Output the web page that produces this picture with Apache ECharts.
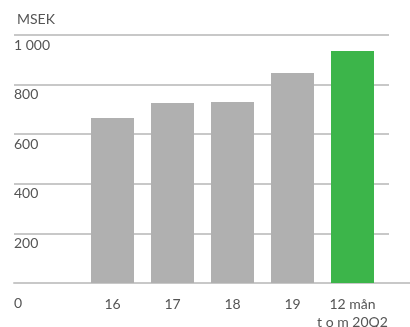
<!DOCTYPE html>
<html><head><meta charset="utf-8">
<script src="https://cdn.jsdelivr.net/npm/echarts@6/dist/echarts.min.js"></script>
<style>html,body{margin:0;padding:0;background:#fff}#c{width:410px;height:327px}</style>
</head><body><div id="c"></div>
<script>
const categories = ['16', '17', '18', '19', '12 mån\nt o m 20Q2'];
const values = [665, 726, 730, 847, 935];
const highlight = [false, false, false, false, true];
const yTicks = [0, 200, 400, 600, 800, 1000];
const unit = 'MSEK';

const FONT = 'Lato';
const chart = echarts.init(document.getElementById('c'), null, {renderer: 'canvas'});
const fmt = v => v >= 1000 ? String(v).replace(/\B(?=(\d{3})+(?!\d))/g, ' ') : String(v);
chart.setOption({
  animation: false,
  title: {text: unit, left: 12, top: 7, textStyle: {fontFamily: FONT, fontSize: 14, fontWeight: 'normal', color: '#555'}},
  grid: [
    {left: 14, right: 21, top: 35, bottom: 44, outerBoundsMode: 'none', containLabel: false},
    {left: 82.5, right: 27.5, top: 35, bottom: 44, outerBoundsMode: 'none', containLabel: false},
    {left: 14, right: 0, top: 35, bottom: 44, outerBoundsMode: 'none', containLabel: false}
  ],
  xAxis: [
    {gridIndex: 0, type: 'category', data: [''], show: false},
    {gridIndex: 1, type: 'category', data: categories, axisLine: {show: false}, axisTick: {show: false},
     axisLabel: {interval: 0, margin: 12, fontFamily: FONT, fontSize: 14, color: '#555', lineHeight: 18}},
    {gridIndex: 2, type: 'category', data: [''], axisLine: {show: true, lineStyle: {color: '#c8c8c8', width: 2}}, axisTick: {show: false}, axisLabel: {show: false}}
  ],
  yAxis: [
    {gridIndex: 0, type: 'value', min: yTicks[0], max: yTicks[yTicks.length - 1], interval: 200,
     axisLine: {show: false}, axisTick: {show: false},
     splitLine: {show: true, lineStyle: {color: '#c8c8c8', width: 2}},
     axisLabel: {inside: true, margin: 0, verticalAlign: 'top', align: 'left', fontFamily: FONT, fontSize: 14, color: '#555',
       formatter: v => v === 0 ? '{z|0}' : '{n|' + fmt(v) + '}',
       rich: {z: {padding: [13, 0, 0, 0], fontFamily: FONT, fontSize: 14, color: '#555'}, n: {padding: [3, 0, 0, 0], fontFamily: FONT, fontSize: 14, color: '#555'}}}},
    {gridIndex: 1, type: 'value', min: 0, max: 1000, show: false, splitLine: {show: false}},
    {gridIndex: 2, type: 'value', min: 0, max: 1000, show: false, splitLine: {show: false}}
  ],
  series: [{
    type: 'bar', xAxisIndex: 1, yAxisIndex: 1, barWidth: 43,
    data: values.map((v, i) => ({value: v, itemStyle: {color: highlight[i] ? '#3cb54a' : '#b0b0b0'}}))
  }]
});
</script></body></html>
